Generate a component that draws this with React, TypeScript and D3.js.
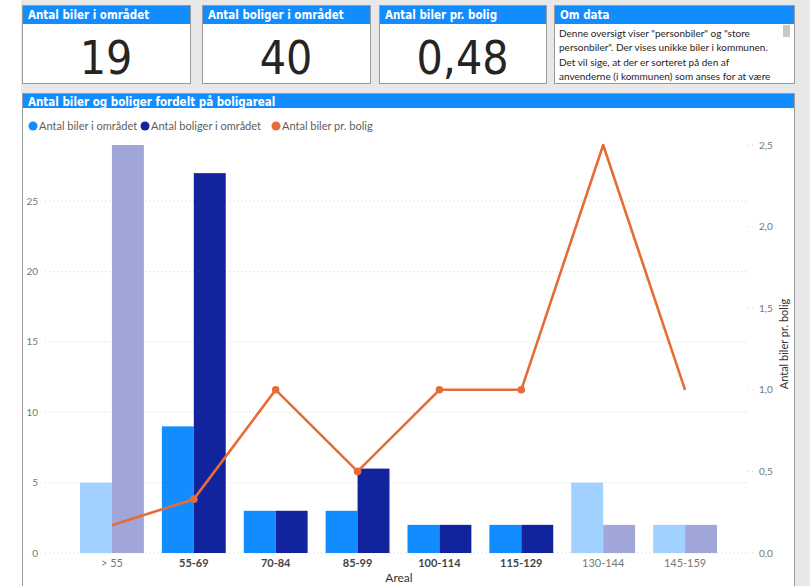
import * as d3 from "d3";

const categories = ["> 55", "55-69", "70-84", "85-99", "100-114", "115-129", "130-144", "145-159"];
const biler = [5, 9, 3, 3, 2, 2, 5, 2];
const boliger = [29, 27, 3, 6, 2, 2, 2, 2];
const perBolig = [0.17, 0.33, 1.0, 0.5, 1.0, 1.0, 2.5, 1.0];
const selected = [false, true, true, true, true, true, false, false];
const leftTicks = [0, 5, 10, 15, 20, 25];
const rightTicks = [0, 0.5, 1, 1.5, 2, 2.5];

const cards = [
  { title: "Antal biler i området", value: "19" },
  { title: "Antal boliger i området", value: "40" },
  { title: "Antal biler pr. bolig", value: "0,48" },
];
const cardX = [[22, 190], [202, 370], [379, 546]];
const omData = [
  "Denne oversigt viser \"personbiler\" og \"store",
  "personbiler\". Der vises unikke biler i kommunen.",
  "Det vil sige, at der er sorteret på den af",
  "anvenderne (i kommunen) som anses for at være",
];
const legend = [
  { label: "Antal biler i området", color: "#118dff", x: 33 },
  { label: "Antal boliger i området", color: "#12239e", x: 145 },
  { label: "Antal biler pr. bolig", color: "#e66c37", x: 276 },
];

const BLUE = "#118dff";
const NAVY = "#12239e";
const ORANGE = "#e66c37";
const FADED_BLUE = "#a0d1ff";
const FADED_NAVY = "#a0a7d8";
const UI = "Lato, 'Noto Sans', sans-serif";
const DIN = "'Liberation Sans Narrow', 'DejaVu Sans Condensed', Roboto, sans-serif";

const fmt = (v: number) => d3.format(".1f")(v).replace(".", ",");

export default function App() {
  const width = 810;
  const height = 586;

  const x = d3.scaleBand<string>().domain(categories).range([71, 726]).paddingInner(0.22).paddingOuter(0.11);
  const sub = d3.scaleBand<string>().domain(["biler", "boliger"]).range([0, x.bandwidth()]);
  const yL = d3.scaleLinear().domain([0, 29]).range([553, 145]);
  const yR = d3.scaleLinear().domain([0, 2.5]).range([553, 145]);

  const line = d3
    .line<number>()
    .x((_, i) => (x(categories[i]) as number) + x.bandwidth() / 2)
    .y((d) => yR(d));

  return (
    <svg width={width} height={height} style={{ position: "absolute", left: 0, top: 0 }}>
      <rect x={0} y={0} width={width} height={height} fill="#fff" />
      <rect x={21} y={0} width={789} height={93} fill="#e8e8e8" />
      <rect x={794} y={93} width={16} height={493} fill="#e8e8e8" />

      {cards.map((c, i) => {
        const [x0, x1] = cardX[i];
        return (
          <g key={c.title}>
            <rect x={x0 + 0.5} y={5.5} width={x1 - x0} height={78} fill="#fff" stroke="#9a9a9a" />
            <rect x={x0 + 1} y={6} width={x1 - x0 - 1} height={18} fill={BLUE} />
            <text x={x0 + 6} y={19} fill="#fff" fontFamily={DIN} fontWeight="bold" fontSize={11.5}>
              {c.title}
            </text>
            <text x={(x0 + x1) / 2} y={74} textAnchor="middle" fill="#252423" fontFamily={DIN} fontSize={46}>
              {c.value}
            </text>
          </g>
        );
      })}

      <g>
        <rect x={554.5} y={5.5} width={240} height={78} fill="#fff" stroke="#9a9a9a" />
        <rect x={555} y={6} width={239} height={18} fill={BLUE} />
        <text x={560} y={19} fill="#fff" fontFamily={DIN} fontWeight="bold" fontSize={11.5}>
          Om data
        </text>
        <clipPath id="omclip">
          <rect x={555} y={24} width={239} height={59} />
        </clipPath>
        <g clipPath="url(#omclip)">
          {omData.map((t, i) => (
            <text key={i} x={559} y={37 + i * 14.3} fontFamily={UI} fontSize={10} fill="#252423">
              {t}
            </text>
          ))}
        </g>
        <rect x={783} y={25} width={7} height={12} fill="#c8c8c8" />
      </g>

      <rect x={22.5} y={93.5} width={772} height={500} fill="#fff" stroke="#9a9a9a" />
      <rect x={23} y={94} width={771} height={14} fill={BLUE} />
      <text x={28} y={105.5} fill="#fff" fontFamily={DIN} fontWeight="bold" fontSize={11.5}>
        Antal biler og boliger fordelt på boligareal
      </text>

      {legend.map((l) => (
        <g key={l.label}>
          <circle cx={l.x} cy={126} r={4.5} fill={l.color} />
          <text x={l.x + 6} y={129.5} fontFamily={UI} fontSize={11} fill="#605e5c">
            {l.label}
          </text>
        </g>
      ))}

      {leftTicks.map((t) => (
        <g key={t}>
          <line x1={45} x2={748} y1={yL(t)} y2={yL(t)} stroke="#d0d0d0" strokeDasharray="1,3" />
          <text x={38} y={yL(t) + 3.5} textAnchor="end" fontFamily={UI} fontSize={10} fill="#777">
            {t}
          </text>
        </g>
      ))}

      {rightTicks.map((t) => (
        <g key={t}>
          <line x1={748} x2={756} y1={yR(t)} y2={yR(t)} stroke="#d0d0d0" strokeDasharray="1,3" />
          <text x={759} y={yR(t) + 3.5} fontFamily={UI} fontSize={10} fill="#777">
            {fmt(t)}
          </text>
        </g>
      ))}

      {categories.map((c, i) => {
        const bx = x(c) as number;
        return (
          <g key={c}>
            <rect
              x={bx + (sub("biler") as number)}
              y={yL(biler[i])}
              width={sub.bandwidth()}
              height={yL(0) - yL(biler[i])}
              fill={selected[i] ? BLUE : FADED_BLUE}
            />
            <rect
              x={bx + (sub("boliger") as number)}
              y={yL(boliger[i])}
              width={sub.bandwidth()}
              height={yL(0) - yL(boliger[i])}
              fill={selected[i] ? NAVY : FADED_NAVY}
            />
            <text
              x={bx + x.bandwidth() / 2}
              y={567}
              textAnchor="middle"
              fontFamily={UI}
              fontSize={11}
              fontWeight={selected[i] ? "bold" : "normal"}
              fill={selected[i] ? "#444" : "#777"}
            >
              {c}
            </text>
          </g>
        );
      })}

      <path d={line(perBolig) ?? ""} fill="none" stroke={ORANGE} strokeWidth={2.6} strokeLinejoin="round" />
      {perBolig.map((v, i) =>
        selected[i] ? (
          <circle key={i} cx={(x(categories[i]) as number) + x.bandwidth() / 2} cy={yR(v)} r={3.8} fill={ORANGE} />
        ) : null
      )}

      <text x={399} y={582} textAnchor="middle" fontFamily={UI} fontSize={12} fill="#333">
        Areal
      </text>
      <text
        transform="translate(788,344) rotate(-90)"
        textAnchor="middle"
        fontFamily={UI}
        fontSize={11}
        fill="#333"
      >
        Antal biler pr. bolig
      </text>
    </svg>
  );
}
